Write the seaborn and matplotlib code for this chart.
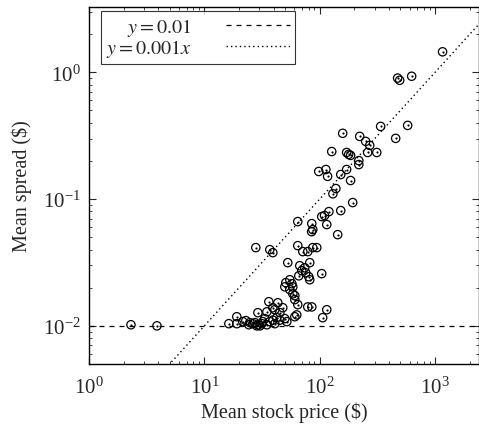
import numpy as np
import pandas as pd
import matplotlib
matplotlib.use("Agg")
import matplotlib.pyplot as plt
import seaborn as sns

# mean stock price ($) and mean spread ($) per stock
price = [1160, 473, 493, 626, 337, 578, 455, 158, 222, 250, 271, 127, 171, 178, 185,
         260, 312, 218, 218, 98, 113, 117, 152, 171, 185, 138, 130, 193, 120, 152,
         104, 110, 115, 85.3, 87, 85, 64.5, 143, 27.9, 36.9, 39.2, 64.5, 71.3, 78.7,
         87, 94.2, 52.8, 81.9, 67.1, 74.1, 69.8, 75.6, 65.8, 80.3, 81.9, 104, 55,
         50.8, 57.3, 49.8, 58.4, 55, 58.4, 60.8, 60.8, 64.5, 36.2, 43.3, 39.2, 47.8,
         78.7, 85.3, 115, 106, 29.1, 34.8, 40.8, 45.1, 19.1, 16.3, 19.1, 22.9, 24.8,
         26.3, 27.4, 28.5, 30.3, 31.5, 32.1, 33.4, 36.9, 39.2, 42.4, 45.1, 49.8, 51.8,
         60.8, 63.2, 29.1, 24.3, 2.31, 3.88, 21.5, 34.8, 40.8]
spread = [1.45, 0.90, 0.864, 0.93, 0.374, 0.381, 0.301, 0.330, 0.312, 0.285, 0.265,
          0.237, 0.233, 0.225, 0.221, 0.233, 0.233, 0.201, 0.187, 0.165, 0.171, 0.151,
          0.156, 0.171, 0.140, 0.121, 0.110, 0.0938, 0.0796, 0.0811, 0.0727, 0.0741,
          0.0629, 0.064, 0.0574, 0.0553, 0.0664, 0.0524, 0.0414, 0.0399, 0.0378,
          0.0429, 0.0385, 0.0385, 0.0414, 0.0414, 0.0315, 0.0315, 0.0298, 0.0287,
          0.0272, 0.0262, 0.0248, 0.0244, 0.0231, 0.0258, 0.0231, 0.0219, 0.0215,
          0.0203, 0.0203, 0.0193, 0.0179, 0.0173, 0.0161, 0.0147, 0.0155, 0.0152,
          0.0139, 0.0139, 0.0141, 0.0141, 0.0134, 0.0116, 0.0127, 0.0129, 0.0134,
          0.0127, 0.0118, 0.0104, 0.0104, 0.0110, 0.0106, 0.0104, 0.0106, 0.0100,
          0.0100, 0.0104, 0.0108, 0.0114, 0.0108, 0.0111, 0.0116, 0.0111, 0.0114,
          0.0108, 0.0118, 0.0122, 0.0102, 0.0102, 0.0102, 0.0100, 0.0108, 0.0102,
          0.0104]

line_x = [1, 2400]
legend_labels = [r"$y = 0.01$", r"$y = 0.001x$"]

sns.set_style("ticks")
plt.rcParams["font.family"] = ["Liberation Serif", "DejaVu Serif"]
plt.rcParams["mathtext.fontset"] = "stix"
plt.rcParams["xtick.direction"] = "in"
plt.rcParams["ytick.direction"] = "in"

df = pd.DataFrame({"price": price, "spread": spread})

fig = plt.figure(figsize=(4.79, 4.31), dpi=100)
ax = fig.add_axes([0.1858, 0.1531, 1.0 - 0.1858, 0.9814 - 0.1531])

ax.plot(line_x, [0.01, 0.01], ls=(0, (4, 4)), color="black", lw=0.9,
        label=legend_labels[0])
ax.plot(line_x, [0.001 * v for v in line_x], ls=(0, (1, 2.2)), color="black",
        lw=1.0, label=legend_labels[1])

sns.scatterplot(data=df, x="price", y="spread", ax=ax, marker="o", s=36,
                facecolor="none", edgecolor="black", linewidth=0.9, zorder=3)
sns.scatterplot(data=df, x="price", y="spread", ax=ax, marker="o", s=2.5,
                color="black", linewidth=0, zorder=3)

ax.set_xscale("log")
ax.set_yscale("log")
ax.set_xlim(1, 2400)
ax.set_ylim(0.005, 3.27)

ax.tick_params(which="both", top=True, right=True, labelsize=15)
ax.tick_params(axis="x", which="major", pad=9)
ax.tick_params(axis="y", which="major", pad=6)
ax.tick_params(which="major", length=5, width=0.8)
ax.tick_params(which="minor", length=2.5, width=0.6)
for s in ax.spines.values():
    s.set_linewidth(1.0)
    s.set_color("black")

ax.set_xlabel(r"Mean stock price (\$)", fontsize=14.5, labelpad=3)
ax.set_ylabel(r"Mean spread (\$)", fontsize=14.5, labelpad=8)

leg = ax.legend(loc="upper left", markerfirst=False, frameon=True, fancybox=False,
                edgecolor="black", fontsize=14.5, handlelength=3.2,
                borderpad=0.25, labelspacing=-0.05, handletextpad=1.7,
                borderaxespad=0.0, bbox_to_anchor=(0.031, 0.988))
leg.get_frame().set_linewidth(0.8)
for t in leg.get_texts():
    t.set_ha("right")
leg._legend_box.align = "right"

fig.savefig("out.png", dpi=100)
